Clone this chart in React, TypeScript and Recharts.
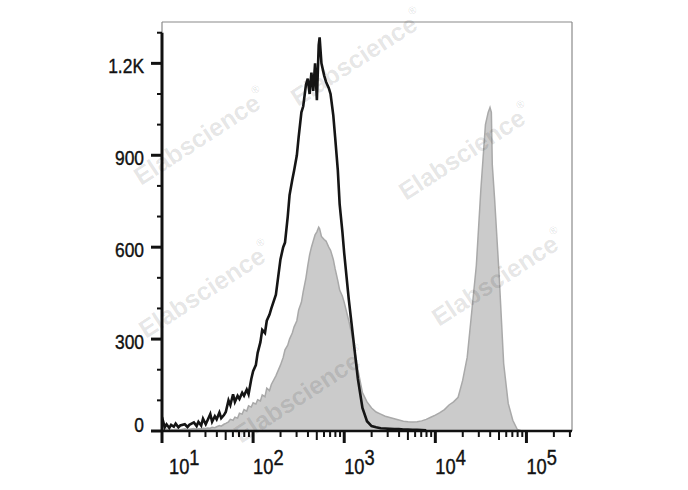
import React from "react";
import { ComposedChart, Area, Line, XAxis, YAxis, ReferenceLine } from "recharts";

// x positions in decades (log10 of fluorescence intensity)
const xPos = [
  1.0, 1.03, 1.05, 1.08, 1.1, 1.13, 1.15, 1.18, 1.2, 1.25, 1.28, 1.3, 1.35, 1.38, 1.4, 1.43, 1.45, 1.48,
  1.5, 1.53, 1.55, 1.58, 1.6, 1.63, 1.65, 1.68, 1.7, 1.73, 1.75, 1.78, 1.8, 1.83, 1.85, 1.88, 1.9, 1.93,
  1.95, 1.98, 2.0, 2.03, 2.05, 2.08, 2.1, 2.13, 2.15, 2.18, 2.2, 2.25, 2.3, 2.33, 2.35, 2.38, 2.4, 2.43,
  2.45, 2.48, 2.5, 2.53, 2.55, 2.58, 2.6, 2.62, 2.64, 2.66, 2.68, 2.7, 2.72, 2.73, 2.75, 2.78, 2.8, 2.83,
  2.85, 2.88, 2.9, 2.93, 2.95, 2.98, 3.0, 3.05, 3.1, 3.15, 3.2, 3.25, 3.3, 3.35, 3.4, 3.45, 3.5, 3.55,
  3.6, 3.65, 3.7, 3.75, 3.8, 3.85, 3.9, 3.95, 4.0, 4.05, 4.1, 4.15, 4.2, 4.25, 4.3, 4.35, 4.4, 4.45,
  4.5, 4.55, 4.58, 4.6, 4.615, 4.625, 4.65, 4.7, 4.75, 4.8, 4.85, 4.9, 4.95,
];

// isotype control (black line)
const controlCounts = [
  45, 12, 22, 10, 20, 14, 24, 12, 18, 22, 13, 20, 28, 16, 30, 18, 40, 22,
  35, 55, 30, 48, 38, 60, 42, 52, 62, 100, 85, 120, 95, 115, 105, 125, 115, 135,
  120, 170, 195, 215, 255, 290, 330, 320, 360, 380, 400, 445, 560, 600, 615, 700, 770, 820,
  850, 900, 960, 1040, 1060, 1130, 1150, 1100, 1170, 1110, 1200, 1080, 1260, 1285, 1200, 1160, 1140, 1120,
  1100, 1030, 960, 850, 740, 650, 580, 430, 300, 170, 75, 32, 16, 12, 9, 8, 7, 6,
  6, 5, 5, 4, 4, 3, 2, null, null, null, null, null, null, null, null, null, null, null,
  null, null, null, null, null, null, null, null, null, null, null, null, null,
];

// stained sample (grey filled)
const stainedCounts = [
  5, 3, 6, 4, 5, 3, 6, 5, 4, 7, 5, 6, 8, 6, 7, 8, 9, 8,
  10, 9, 12, 11, 14, 18, 16, 22, 25, 30, 38, 35, 45, 42, 58, 55, 70, 65,
  82, 78, 92, 88, 102, 98, 118, 112, 140, 132, 152, 180, 215, 240, 265, 280, 300, 320,
  340, 360, 395, 420, 455, 500, 540, 575, 600, 620, 640, 650, 665, 660, 635, 625, 620, 600,
  590, 560, 530, 490, 460, 440, 420, 360, 290, 200, 125, 95, 75, 62, 55, 48, 44, 40,
  36, 32, 30, 29, 30, 33, 38, 45, 52, 60, 70, 85, 95, 110, 165, 241, 390, 540,
  790, 1000, 1040, 1056, 1040, 870, 760, 510, 220, 90, 35, 5, 0,
];

const yTicks = [0, 100, 200, 300, 400, 500, 600, 700, 800, 900, 1000, 1100, 1200, 1300];
const yLabels: Record<number, string> = { 0: "0", 300: "300", 600: "600", 900: "900", 1200: "1.2K" };
const decades = [1, 2, 3, 4, 5];
const multipliers = [1, 2, 3, 4, 5, 6, 7, 8, 9];
const watermarkText = "Elabscience";

const Y_MAX = 1335;
const X_MIN = 1;
const X_MAX = 5.5;

const CHART_W = 688;
const CHART_H = 490;
const MARGIN = { top: 22, right: 116, bottom: 0, left: 0 };
const X_AXIS_H = 59;
const Y_AXIS_W = 162;
const PLOT_H = CHART_H - MARGIN.top - MARGIN.bottom - X_AXIS_H;

const data = xPos.map((x, i) => ({ x, control: controlCounts[i], stained: stainedCounts[i] }));

const xTicks: number[] = [];
decades.forEach((d) =>
  multipliers.forEach((m) => {
    const v = d + Math.log10(m);
    if (v <= X_MAX + 1e-9) xTicks.push(v);
  })
);

const FONT = "'Liberation Sans', Arial, sans-serif";
const SQUEEZE = 0.83;

const XTick = (props: any) => {
  const { x, y, payload } = props;
  const v = payload.value as number;
  const d = Math.round(v);
  const isMajor = Math.abs(v - d) < 1e-6;
  const frac = v - Math.floor(v);
  const isMedium = !isMajor && Math.abs(frac - Math.log10(5)) < 1e-6;
  const len = isMajor ? 12 : isMedium ? 9 : 6;
  const w = isMajor ? 3 : 2;
  const tx = x + (d === 1 ? 7 : 0);
  return (
    <g>
      <line x1={x} x2={x} y1={y} y2={y + len} stroke="#111" strokeWidth={w} />
      {isMajor && (
        <text
          x={0}
          y={0}
          transform={`translate(${tx},${y + 43}) scale(${SQUEEZE},1)`}
          fontFamily={FONT}
          fontSize={22}
          fill="#111"
          stroke="#111"
          strokeWidth={0.4}
          textAnchor="start"
        >
          10
          <tspan dy={-9}>{d}</tspan>
        </text>
      )}
    </g>
  );
};

const YTick = (props: any) => {
  const { x, y, payload } = props;
  const v = payload.value as number;
  const isMajor = v % 300 === 0;
  const len = isMajor ? 11 : 5;
  const label = yLabels[v];
  // thick black axis spine, drawn from the zero tick up to the top tick
  const spineTop = y - (PLOT_H * yTicks[yTicks.length - 1]) / Y_MAX;
  return (
    <g>
      {v === 0 && <line x1={x} x2={x} y1={y + 1} y2={spineTop} stroke="#111" strokeWidth={3} />}
      <line x1={x - len} x2={x} y1={y} y2={y} stroke="#111" strokeWidth={isMajor ? 3 : 2} />
      {label !== undefined && (
        <text
          x={0}
          y={0}
          transform={`translate(${x - 18},${y + (v === 0 ? 1 : 10)}) scale(${SQUEEZE},1)`}
          fontFamily={FONT}
          fontSize={21}
          fill="#111"
          stroke="#111"
          strokeWidth={0.4}
          textAnchor="end"
        >
          {label}
        </text>
      )}
    </g>
  );
};

const marks = [
  { cx: 357, cy: 58 },
  { cx: 200, cy: 137 },
  { cx: 465, cy: 152 },
  { cx: 205, cy: 290 },
  { cx: 498, cy: 278 },
  { cx: 300, cy: 395 },
];

export default function App() {
  return (
    <div style={{ position: "absolute", left: 0, top: 0, width: CHART_W, height: CHART_H, background: "#fff" }}>
      <ComposedChart width={CHART_W} height={CHART_H} data={data} margin={MARGIN}>
        <XAxis
          type="number"
          dataKey="x"
          domain={[X_MIN, X_MAX]}
          ticks={xTicks}
          interval={0}
          tickSize={0}
          tickMargin={0}
          tick={<XTick />}
          height={X_AXIS_H}
          axisLine={false}
          allowDataOverflow
        />
        <YAxis
          type="number"
          domain={[0, Y_MAX]}
          ticks={yTicks}
          interval={0}
          tickSize={0}
          tickMargin={0}
          tick={<YTick />}
          width={Y_AXIS_W}
          axisLine={{ stroke: "#8a8a8a", strokeWidth: 1.2 }}
          allowDataOverflow
        />
        <ReferenceLine y={Y_MAX} stroke="#8a8a8a" strokeWidth={1.2} ifOverflow="visible" />
        <ReferenceLine x={X_MAX} stroke="#8a8a8a" strokeWidth={1.2} ifOverflow="visible" />
        <Area
          type="linear"
          dataKey="stained"
          fill="#cbcbcb"
          fillOpacity={1}
          stroke="#a9a9a9"
          strokeWidth={1.5}
          isAnimationActive={false}
          connectNulls={false}
        />
        <Line
          type="linear"
          dataKey="control"
          stroke="#151515"
          strokeWidth={2.6}
          dot={false}
          isAnimationActive={false}
        />
        <ReferenceLine y={0} stroke="#111" strokeWidth={2.5} ifOverflow="visible" />
      </ComposedChart>
      <svg width={CHART_W} height={CHART_H} style={{ position: "absolute", left: 0, top: 0, pointerEvents: "none" }}>
        {marks.map((m, i) => (
          <text
            key={i}
            x={m.cx}
            y={m.cy}
            transform={`rotate(-33 ${m.cx} ${m.cy})`}
            textAnchor="middle"
            dominantBaseline="central"
            fontFamily="'Liberation Sans', Arial, sans-serif"
            fontWeight="bold"
            fontSize={25}
            fill="rgba(0,0,0,0.11)"
          >
            {watermarkText}
            <tspan fontSize={11} dy={-10}>®</tspan>
          </text>
        ))}
      </svg>
    </div>
  );
}
